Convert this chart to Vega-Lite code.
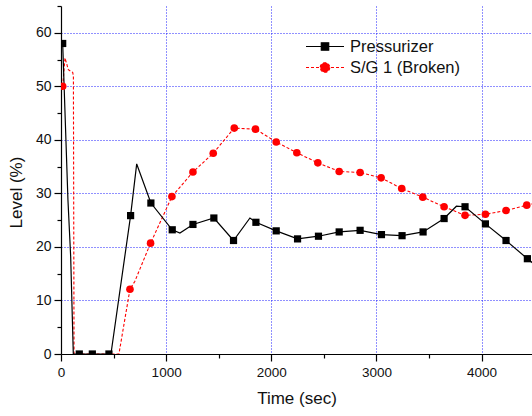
{
  "$schema": "https://vega.github.io/schema/vega-lite/v6.json",
  "autosize": "none",
  "width": 471,
  "height": 348,
  "padding": {"left": 61, "top": 6, "right": 0, "bottom": 62},
  "background": "white",
  "config": {
    "view": {"stroke": null},
    "font": "Liberation Sans",
    "axis": {
      "labelFont": "Liberation Sans", "labelFontSize": 13.5, "labelColor": "#111",
      "titleFont": "Liberation Sans", "titleFontSize": 17, "titleFontWeight": "normal", "titleColor": "#111",
      "domainColor": "black", "domainWidth": 1.2, "tickColor": "black", "tickWidth": 1.2,
      "gridColor": "#2020ff", "gridDash": [1, 2], "gridWidth": 1
    }
  },
  "datasets": {
    "lines": [
      {"series": "Pressurizer", "time": 16, "level": 58.0},
      {"series": "Pressurizer", "time": 66, "level": 28.8},
      {"series": "Pressurizer", "time": 92, "level": 18.2},
      {"series": "Pressurizer", "time": 117, "level": 0},
      {"series": "Pressurizer", "time": 174, "level": 0},
      {"series": "Pressurizer", "time": 298, "level": 0},
      {"series": "Pressurizer", "time": 456, "level": 0},
      {"series": "Pressurizer", "time": 475, "level": 0},
      {"series": "Pressurizer", "time": 662, "level": 25.85},
      {"series": "Pressurizer", "time": 720, "level": 35.5},
      {"series": "Pressurizer", "time": 855, "level": 28.2},
      {"series": "Pressurizer", "time": 1058, "level": 23.2},
      {"series": "Pressurizer", "time": 1131, "level": 22.6},
      {"series": "Pressurizer", "time": 1255, "level": 24.2},
      {"series": "Pressurizer", "time": 1454, "level": 25.4},
      {"series": "Pressurizer", "time": 1641, "level": 21.2},
      {"series": "Pressurizer", "time": 1797, "level": 25.4},
      {"series": "Pressurizer", "time": 1854, "level": 24.6},
      {"series": "Pressurizer", "time": 2047, "level": 23.0},
      {"series": "Pressurizer", "time": 2250, "level": 21.5},
      {"series": "Pressurizer", "time": 2449, "level": 22.0},
      {"series": "Pressurizer", "time": 2646, "level": 22.8},
      {"series": "Pressurizer", "time": 2845, "level": 23.1},
      {"series": "Pressurizer", "time": 3048, "level": 22.3},
      {"series": "Pressurizer", "time": 3244, "level": 22.1},
      {"series": "Pressurizer", "time": 3444, "level": 22.8},
      {"series": "Pressurizer", "time": 3644, "level": 25.3},
      {"series": "Pressurizer", "time": 3761, "level": 27.6},
      {"series": "Pressurizer", "time": 3843, "level": 27.5},
      {"series": "Pressurizer", "time": 4037, "level": 24.3},
      {"series": "Pressurizer", "time": 4233, "level": 21.2},
      {"series": "Pressurizer", "time": 4436, "level": 17.8},
      {"series": "Pressurizer", "time": 4500, "level": 16.8},
      {"series": "S/G 1 (Broken)", "time": 16, "level": 50.0},
      {"series": "S/G 1 (Broken)", "time": 38, "level": 55.3},
      {"series": "S/G 1 (Broken)", "time": 70, "level": 53.1},
      {"series": "S/G 1 (Broken)", "time": 111, "level": 52.6},
      {"series": "S/G 1 (Broken)", "time": 118, "level": 52.0},
      {"series": "S/G 1 (Broken)", "time": 124, "level": 0},
      {"series": "S/G 1 (Broken)", "time": 551, "level": 0},
      {"series": "S/G 1 (Broken)", "time": 656, "level": 12.1},
      {"series": "S/G 1 (Broken)", "time": 703, "level": 13.6},
      {"series": "S/G 1 (Broken)", "time": 852, "level": 20.7},
      {"series": "S/G 1 (Broken)", "time": 1055, "level": 29.4},
      {"series": "S/G 1 (Broken)", "time": 1255, "level": 34.0},
      {"series": "S/G 1 (Broken)", "time": 1448, "level": 37.5},
      {"series": "S/G 1 (Broken)", "time": 1648, "level": 42.2},
      {"series": "S/G 1 (Broken)", "time": 1850, "level": 42.0},
      {"series": "S/G 1 (Broken)", "time": 2047, "level": 39.6},
      {"series": "S/G 1 (Broken)", "time": 2243, "level": 37.6},
      {"series": "S/G 1 (Broken)", "time": 2443, "level": 35.7},
      {"series": "S/G 1 (Broken)", "time": 2646, "level": 34.1},
      {"series": "S/G 1 (Broken)", "time": 2845, "level": 33.9},
      {"series": "S/G 1 (Broken)", "time": 3045, "level": 32.9},
      {"series": "S/G 1 (Broken)", "time": 3241, "level": 30.9},
      {"series": "S/G 1 (Broken)", "time": 3441, "level": 29.3},
      {"series": "S/G 1 (Broken)", "time": 3644, "level": 27.5},
      {"series": "S/G 1 (Broken)", "time": 3843, "level": 25.9},
      {"series": "S/G 1 (Broken)", "time": 4037, "level": 26.1},
      {"series": "S/G 1 (Broken)", "time": 4233, "level": 26.8},
      {"series": "S/G 1 (Broken)", "time": 4430, "level": 27.8},
      {"series": "S/G 1 (Broken)", "time": 4500, "level": 28.1}
    ],
    "markers": [
      {"series": "Pressurizer", "time": 16, "level": 58.0},
      {"series": "Pressurizer", "time": 174, "level": 0},
      {"series": "Pressurizer", "time": 298, "level": 0},
      {"series": "Pressurizer", "time": 456, "level": 0},
      {"series": "Pressurizer", "time": 662, "level": 25.85},
      {"series": "Pressurizer", "time": 855, "level": 28.2},
      {"series": "Pressurizer", "time": 1058, "level": 23.2},
      {"series": "Pressurizer", "time": 1255, "level": 24.2},
      {"series": "Pressurizer", "time": 1454, "level": 25.4},
      {"series": "Pressurizer", "time": 1641, "level": 21.2},
      {"series": "Pressurizer", "time": 1854, "level": 24.6},
      {"series": "Pressurizer", "time": 2047, "level": 23.0},
      {"series": "Pressurizer", "time": 2250, "level": 21.5},
      {"series": "Pressurizer", "time": 2449, "level": 22.0},
      {"series": "Pressurizer", "time": 2646, "level": 22.8},
      {"series": "Pressurizer", "time": 2845, "level": 23.1},
      {"series": "Pressurizer", "time": 3048, "level": 22.3},
      {"series": "Pressurizer", "time": 3244, "level": 22.1},
      {"series": "Pressurizer", "time": 3444, "level": 22.8},
      {"series": "Pressurizer", "time": 3644, "level": 25.3},
      {"series": "Pressurizer", "time": 3843, "level": 27.5},
      {"series": "Pressurizer", "time": 4037, "level": 24.3},
      {"series": "Pressurizer", "time": 4233, "level": 21.2},
      {"series": "Pressurizer", "time": 4436, "level": 17.8},
      {"series": "S/G 1 (Broken)", "time": 16, "level": 50.0},
      {"series": "S/G 1 (Broken)", "time": 656, "level": 12.1},
      {"series": "S/G 1 (Broken)", "time": 852, "level": 20.7},
      {"series": "S/G 1 (Broken)", "time": 1055, "level": 29.4},
      {"series": "S/G 1 (Broken)", "time": 1255, "level": 34.0},
      {"series": "S/G 1 (Broken)", "time": 1448, "level": 37.5},
      {"series": "S/G 1 (Broken)", "time": 1648, "level": 42.2},
      {"series": "S/G 1 (Broken)", "time": 1850, "level": 42.0},
      {"series": "S/G 1 (Broken)", "time": 2047, "level": 39.6},
      {"series": "S/G 1 (Broken)", "time": 2243, "level": 37.6},
      {"series": "S/G 1 (Broken)", "time": 2443, "level": 35.7},
      {"series": "S/G 1 (Broken)", "time": 2646, "level": 34.1},
      {"series": "S/G 1 (Broken)", "time": 2845, "level": 33.9},
      {"series": "S/G 1 (Broken)", "time": 3045, "level": 32.9},
      {"series": "S/G 1 (Broken)", "time": 3241, "level": 30.9},
      {"series": "S/G 1 (Broken)", "time": 3441, "level": 29.3},
      {"series": "S/G 1 (Broken)", "time": 3644, "level": 27.5},
      {"series": "S/G 1 (Broken)", "time": 3843, "level": 25.9},
      {"series": "S/G 1 (Broken)", "time": 4037, "level": 26.1},
      {"series": "S/G 1 (Broken)", "time": 4233, "level": 26.8},
      {"series": "S/G 1 (Broken)", "time": 4430, "level": 27.8}
    ]
  },
  "encoding": {
    "x": {
      "field": "time", "type": "quantitative",
      "scale": {"domain": [0, 4480], "nice": false, "zero": false},
      "axis": {
        "title": "Time (sec)", "titlePadding": 12,
        "values": [0, 500, 1000, 1500, 2000, 2500, 3000, 3500, 4000],
        "labelExpr": "datum.value % 1000 === 0 ? datum.label : ''",
        "format": "d", "labelPadding": 4, "labelFlush": false, "labelOverlap": false,
        "grid": true,
        "gridOpacity": {"condition": {"test": "datum.value % 1000 !== 0 || datum.value === 0", "value": 0}, "value": 1},
        "tickSize": {"condition": {"test": "datum.value % 1000 !== 0", "value": 4}, "value": 7}
      }
    },
    "y": {
      "field": "level", "type": "quantitative",
      "scale": {"domain": [0, 65], "nice": false},
      "axis": {
        "title": "Level (%)", "titlePadding": 10, "titleY": 186,
        "values": [0, 5, 10, 15, 20, 25, 30, 35, 40, 45, 50, 55, 60, 65],
        "labelExpr": "datum.value % 10 === 0 ? datum.label : ''",
        "labelFontSize": 14, "labelPadding": 3, "labelFlush": false, "labelOverlap": false,
        "grid": true,
        "gridOpacity": {"condition": {"test": "datum.value % 10 !== 0 || datum.value === 0", "value": 0}, "value": 1},
        "tickSize": {"condition": {"test": "datum.value % 10 !== 0", "value": 4}, "value": 7}
      }
    },
    "color": {
      "field": "series", "type": "nominal",
      "scale": {"domain": ["Pressurizer", "S/G 1 (Broken)"], "range": ["black", "#ff0000"]},
      "legend": {
        "orient": "none", "legendX": 244, "legendY": 30, "title": null, "padding": 0,
        "labelFont": "Liberation Sans", "labelFontSize": 16.5, "labelColor": "#111", "labelOffset": 24,
        "rowPadding": 2, "symbolSize": 361, "symbolStrokeWidth": 1.2,
        "encode": {
          "symbols": {
            "update": {
              "shape": {"signal": "datum.value === 'Pressurizer' ? 'M-1,0H3M0.61,-0.39H1.39V0.39H0.61Z' : 'M-1,0H3M1.5,0A0.5,0.5,0,1,1,0.5,0A0.5,0.5,0,1,1,1.5,0Z'"},
              "fill": {"signal": "datum.value === 'Pressurizer' ? 'black' : '#ff0000'"},
              "stroke": {"signal": "datum.value === 'Pressurizer' ? 'black' : '#ff0000'"},
              "strokeDash": {"signal": "datum.value === 'Pressurizer' ? [] : [3, 2]"},
              "fillOpacity": {"value": 1}
            }
          }
        }
      }
    }
  },
  "layer": [
    {
      "data": {"name": "lines"},
      "transform": [{"filter": "datum.series === 'S/G 1 (Broken)'"}],
      "mark": {"type": "line", "clip": true, "strokeWidth": 1.1, "strokeDash": [3, 2]}
    },
    {
      "data": {"name": "lines"},
      "transform": [{"filter": "datum.series === 'Pressurizer'"}],
      "mark": {"type": "line", "clip": true, "strokeWidth": 1.2}
    },
    {
      "data": {"name": "markers"},
      "transform": [{"filter": "datum.series === 'Pressurizer'"}],
      "mark": {"type": "square", "filled": true, "opacity": 1, "clip": true, "size": 52}
    },
    {
      "data": {"name": "markers"},
      "transform": [{"filter": "datum.series === 'S/G 1 (Broken)'"}],
      "mark": {"type": "circle", "opacity": 1, "clip": true, "size": 58}
    }
  ]
}
